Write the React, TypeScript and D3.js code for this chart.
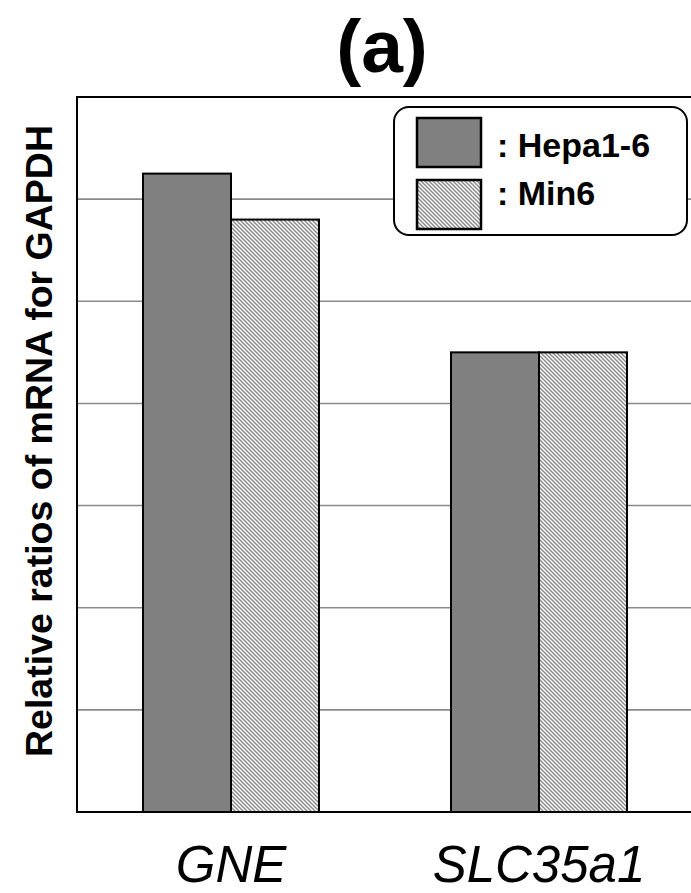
import React from "react";
import * as d3 from "d3";

const categories = ["GNE", "SLC35a1"];
const seriesNames = ["Hepa1-6", "Min6"];
const hepaValues = [1.25, 0.9];
const min6Values = [1.16, 0.9];
const yTicks = [0.2, 0.4, 0.6, 0.8, 1.0, 1.2];
const titleText = "(a)";
const yLabel = "Relative ratios of mRNA for GAPDH";

const W = 691;
const H = 893;
const left = 77;
const right = 693;
const top = 97;
const bottom = 812;

export default function App() {
  const x0 = d3.scaleBand<string>().domain(categories).range([left, right]).padding(0);
  const x1 = d3
    .scaleBand<string>()
    .domain(seriesNames)
    .range([0, x0.bandwidth()])
    .paddingInner(0)
    .paddingOuter(0.75);
  const y = d3.scaleLinear().domain([0, 1.4]).range([bottom, top]);
  const seriesValues = [hepaValues, min6Values];
  const fills = ["#808080", "url(#hatch)"];

  return (
    <svg
      width={W}
      height={H}
      style={{ position: "absolute", left: 0, top: 0, display: "block", background: "#fff" }}
      fontFamily="'Liberation Sans', Arial, Helvetica, sans-serif"
    >
      <defs>
        <pattern id="hatch" width={4} height={4} patternUnits="userSpaceOnUse">
          <rect width={4} height={4} fill="#ffffff" />
          <path d="M-1,-1 L5,5 M-1,3 L1,5 M3,-1 L5,1" stroke="#8c8c8c" strokeWidth={1.5} />
        </pattern>
      </defs>
      <rect x={0} y={0} width={W} height={H} fill="#fff" />
      {/* gridlines */}
      {yTicks.map((t) => (
        <line key={t} x1={left} x2={W} y1={y(t)} y2={y(t)} stroke="#8a8a8a" strokeWidth={1.6} />
      ))}
      {/* bars */}
      {categories.map((c, ci) =>
        seriesNames.map((s, si) => {
          const v = seriesValues[si][ci];
          return (
            <rect
              key={c + s}
              x={(x0(c) ?? 0) + (x1(s) ?? 0)}
              y={y(v)}
              width={x1.bandwidth()}
              height={y(0) - y(v)}
              fill={fills[si]}
              stroke="#000"
              strokeWidth={2}
            />
          );
        })
      )}
      {/* frame */}
      <line x1={left} x2={W} y1={top} y2={top} stroke="#000" strokeWidth={2} />
      <line x1={left} x2={W} y1={bottom} y2={bottom} stroke="#000" strokeWidth={2} />
      <line x1={left} x2={left} y1={top - 1} y2={bottom + 1} stroke="#000" strokeWidth={2} />
      {/* x labels */}
      {categories.map((c) => (
        <text
          key={c}
          x={(x0(c) ?? 0) + x0.bandwidth() / 2}
          y={882}
          textAnchor="middle"
          fontSize={51}
          fontStyle="italic"
          fill="#000"
        >
          {c}
        </text>
      ))}
      {/* title */}
      <text x={382} y={72} textAnchor="middle" fontSize={75} fontWeight="bold" fill="#000">
        {titleText}
      </text>
      {/* y label */}
      <text
        transform={`translate(52,441) rotate(-90)`}
        textAnchor="middle"
        fontSize={37.5}
        fontWeight="bold"
        fill="#000"
      >
        {yLabel}
      </text>
      {/* legend */}
      <g>
        <rect x={394} y={107} width={293} height={128} rx={15} ry={15} fill="#fff" stroke="#000" strokeWidth={2} />
        {seriesNames.map((s, i) => (
          <g key={s}>
            <rect
              x={417}
              y={118 + i * 62}
              width={64}
              height={49}
              fill={fills[i]}
              stroke="#000"
              strokeWidth={2.5}
            />
            <text x={497} y={157 + i * 48} fontSize={34} fontWeight="bold" fill="#000">
              {": " + s}
            </text>
          </g>
        ))}
      </g>
    </svg>
  );
}
